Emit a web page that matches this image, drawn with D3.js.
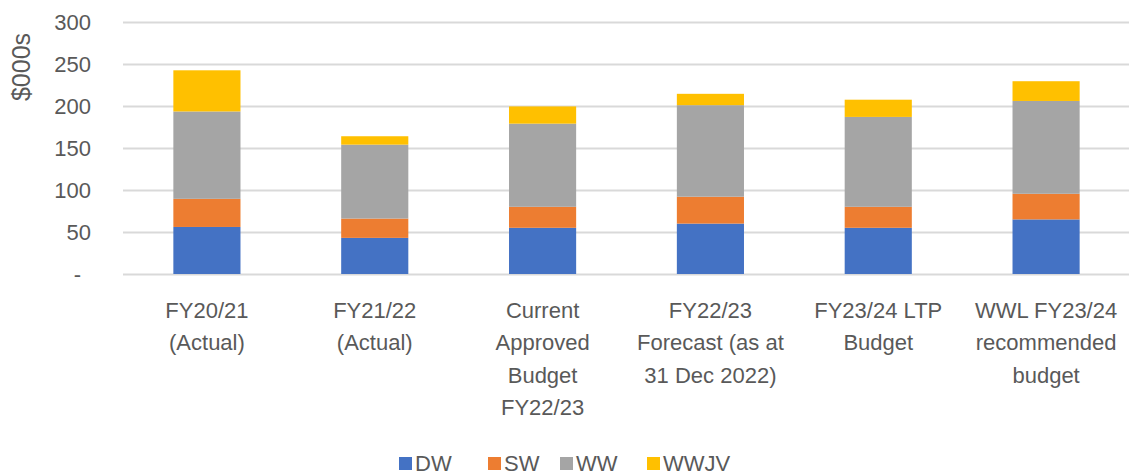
<!DOCTYPE html>
<html>
<head>
<meta charset="utf-8">
<script src="https://cdn.jsdelivr.net/npm/d3@7"></script>
<style>
  html, body { margin: 0; padding: 0; background: #fff; }
  svg text { font-family: "Liberation Sans", Arial, sans-serif; fill: #595959; }
</style>
</head>
<body>
<svg id="chart" width="1129" height="476"></svg>
<script>
// categories (label lines as wrapped in the original)
const categories = [
  ["FY20/21", "(Actual)"],
  ["FY21/22", "(Actual)"],
  ["Current", "Approved", "Budget", "FY22/23"],
  ["FY22/23", "Forecast (as at", "31 Dec 2022)"],
  ["FY23/24 LTP", "Budget"],
  ["WWL FY23/24", "recommended", "budget"]
];
const seriesNames = ["DW", "SW", "WW", "WWJV"];
const DW   = [56, 43, 55, 60, 55, 65];
const SW   = [33.5, 23, 25, 32, 25, 30.5];
const WW   = [104, 88, 99, 109, 107, 110.5];
const WWJV = [49, 10, 20.5, 13.5, 20.5, 23.5];
const yTicks = [0, 50, 100, 150, 200, 250, 300];
const colors = ["#4472C4", "#ED7D31", "#A5A5A5", "#FFC000"];

var svg = d3.select("#chart");
var keys = categories.map(function(c) { return c.join(" "); });
var rows = keys.map(function(k, i) {
  return { cat: k, DW: DW[i], SW: SW[i], WW: WW[i], WWJV: WWJV[i] };
});
var series = d3.stack().keys(seriesNames)(rows);

var x = d3.scaleBand()
  .domain(keys)
  .range([123, 1130])
  .paddingInner(0.6)
  .paddingOuter(0.3);
var y = d3.scaleLinear().domain([0, 300]).range([274, 22]);
var z = d3.scaleOrdinal().domain(seriesNames).range(colors);

// grid + y labels
var yAxis = svg.append("g")
  .attr("transform", "translate(123,0)")
  .call(d3.axisLeft(y).tickValues(yTicks).tickSize(-(1129 - 123))
    .tickFormat(function(d) { return d === 0 ? "-" : d; }));
yAxis.select(".domain").remove();
yAxis.selectAll(".tick line").attr("stroke", "#d9d9d9").attr("stroke-width", 2);
yAxis.selectAll(".tick text")
  .attr("x", -32)
  .attr("dx", function(d) { return d === 0 ? -10 : 0; })
  .style("font-size", "22px");

// bars
svg.append("g")
  .selectAll("g")
  .data(series)
  .enter().append("g")
    .attr("fill", function(d) { return z(d.key); })
  .selectAll("rect")
  .data(function(d) { return d; })
  .enter().append("rect")
    .attr("x", function(d) { return x(d.data.cat); })
    .attr("width", x.bandwidth())
    .attr("y", function(d) { return y(d[1]); })
    .attr("height", function(d) { return y(d[0]) - y(d[1]); });

// category labels
var xl = svg.append("g");
categories.forEach(function(lines, i) {
  var t = xl.append("text")
    .attr("text-anchor", "middle")
    .style("font-size", "22px")
    .attr("transform", "translate(" + (x(keys[i]) + x.bandwidth() / 2) + ",318)");
  lines.forEach(function(s, j) {
    t.append("tspan").attr("x", 0).attr("y", j * 32.3).text(s);
  });
});

// y title
svg.append("text")
  .attr("transform", "translate(30,67) rotate(-90)")
  .attr("text-anchor", "middle")
  .style("font-size", "25px")
  .text("$000s");

// legend
var legX = [399, 488, 560, 647];
var leg = svg.append("g").selectAll("g")
  .data(seriesNames)
  .enter().append("g")
    .attr("transform", function(d, i) { return "translate(" + legX[i] + ",457)"; });
leg.append("rect").attr("width", 13).attr("height", 13).attr("fill", function(d) { return z(d); });
leg.append("text").attr("x", 16).attr("y", 14).style("font-size", "22px").text(function(d) { return d; });
</script>
</body>
</html>
